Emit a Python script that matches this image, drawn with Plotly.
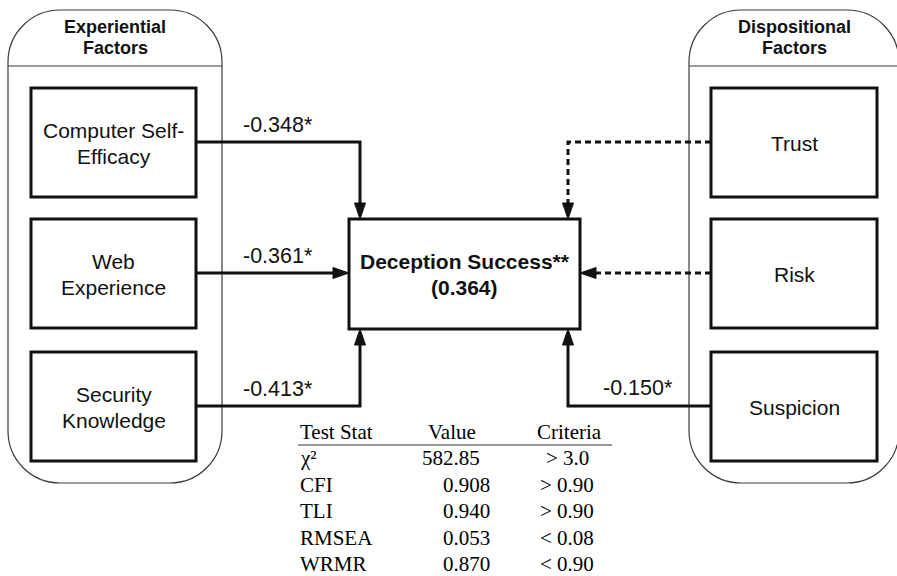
import plotly.graph_objects as go

# ---------------- data ----------------
group_titles = [["Experiential", "Factors"], ["Dispositional", "Factors"]]
experiential = [["Computer Self-", "Efficacy"], ["Web", "Experience"], ["Security", "Knowledge"]]
experiential_coef = ["-0.348*", "-0.361*", "-0.413*"]
experiential_sig = [True, True, True]
dispositional = [["Trust"], ["Risk"], ["Suspicion"]]
dispositional_coef = ["", "", "-0.150*"]
dispositional_sig = [False, False, True]
outcome_label = ["Deception Success**", "(0.364)"]
fit_header = ["Test Stat", "Value", "Criteria"]
fit_stats = ["χ²", "CFI", "TLI", "RMSEA", "WRMR"]
fit_values = ["582.85", "0.908", "0.940", "0.053", "0.870"]
fit_criteria = ["> 3.0", "> 0.90", "> 0.90", "< 0.08", "< 0.90"]

# ---------------- geometry ----------------
W, H = 897, 576
SANS = "Liberation Sans, Arial, sans-serif"
SERIF = "Liberation Serif, Times New Roman, serif"
INK = "#111111"

row_y = [142, 273, 406]
box_half_up, box_half_dn = 54, 55
left_box = (31, 196)
right_box = (711, 877)
center = dict(x0=349, x1=580, y0=219, y1=329)
left_entry_x, right_entry_x = 360, 568
containers = [dict(x0=8, x1=222), dict(x0=689, x1=899)]
cont_y0, cont_y1, cont_sep, cont_r = 10, 483, 66, 52
LINE_GAP = 26

shapes = []
annotations = []


def rounded_path(x0, x1, y0, y1, r):
    k = 0.5523 * r
    return (f"M{x0},{y0 + r} C{x0},{y0 + r - k} {x0 + r - k},{y0} {x0 + r},{y0} "
            f"L{x1 - r},{y0} C{x1 - r + k},{y0} {x1},{y0 + r - k} {x1},{y0 + r} "
            f"L{x1},{y1 - r} C{x1},{y1 - r + k} {x1 - r + k},{y1} {x1 - r},{y1} "
            f"L{x0 + r},{y1} C{x0 + r - k},{y1} {x0},{y1 - r + k} {x0},{y1 - r} Z")


def arrowhead(x, y, direction, length=16, half=5.5):
    if direction == "down":
        p = f"M{x - half},{y - length} L{x + half},{y - length} L{x},{y} Z"
    elif direction == "up":
        p = f"M{x - half},{y + length} L{x + half},{y + length} L{x},{y} Z"
    elif direction == "right":
        p = f"M{x - length},{y - half} L{x - length},{y + half} L{x},{y} Z"
    else:
        p = f"M{x + length},{y - half} L{x + length},{y + half} L{x},{y} Z"
    shapes.append(dict(type="path", path=p, xref="x", yref="y",
                       fillcolor=INK, line=dict(color=INK, width=1)))


def text(x, y, s, size, font=SANS, bold=False, xanchor="center", color=INK):
    annotations.append(dict(x=x, y=y, xref="x", yref="y", text=f"<b>{s}</b>" if bold else s,
                            showarrow=False, xanchor=xanchor, yanchor="middle",
                            font=dict(family=font, size=size, color=color)))


def lines(x, cy, parts, size, gap=LINE_GAP, **kw):
    n = len(parts)
    for i, part in enumerate(parts):
        text(x, cy + (i - (n - 1) / 2) * gap, part, size, **kw)


# containers
for c, title in zip(containers, group_titles):
    shapes.append(dict(type="path", path=rounded_path(c["x0"], c["x1"], cont_y0, cont_y1, cont_r),
                       xref="x", yref="y", line=dict(color="#3a3a3a", width=1.2)))
    shapes.append(dict(type="line", x0=c["x0"], x1=c["x1"], y0=cont_sep, y1=cont_sep,
                       xref="x", yref="y", line=dict(color="#3a3a3a", width=1.2)))
    lines((c["x0"] + c["x1"]) / 2, 37.5, title, 18, gap=21, bold=True)

# factor boxes
for side, labels in ((left_box, experiential), (right_box, dispositional)):
    for y, lab in zip(row_y, labels):
        shapes.append(dict(type="rect", x0=side[0], x1=side[1], y0=y - box_half_up, y1=y + box_half_dn,
                           xref="x", yref="y", line=dict(color=INK, width=3), fillcolor="white"))
        lines((side[0] + side[1]) / 2, y + 1, lab, 21)

# outcome box
shapes.append(dict(type="rect", xref="x", yref="y", line=dict(color=INK, width=3),
                   fillcolor="white", **center))
lines((center["x0"] + center["x1"]) / 2, 274, outcome_label, 21, bold=True)


def connect(start_x, y, idx, entry_x, side_x, sig, toward):
    dash = "solid" if sig else "6px,4px"
    if idx == 1:
        tip = side_x
        end = tip - 14 if toward == "right" else tip + 14
        shapes.append(dict(type="line", x0=start_x, x1=end, y0=y, y1=y, xref="x", yref="y",
                           line=dict(color=INK, width=3, dash=dash)))
        arrowhead(tip, y, toward)
    else:
        if idx == 0:
            tip_y, end_y, d = center["y0"], center["y0"] - 14, "down"
        else:
            tip_y, end_y, d = center["y1"], center["y1"] + 14, "up"
        p = f"M{start_x},{y} L{entry_x},{y} L{entry_x},{end_y}"
        shapes.append(dict(type="path", path=p, xref="x", yref="y",
                           line=dict(color=INK, width=3, dash=dash)))
        arrowhead(entry_x, tip_y, d)


for i, (y, coef, sig) in enumerate(zip(row_y, experiential_coef, experiential_sig)):
    connect(left_box[1], y, i, left_entry_x, center["x0"], sig, "right")
    if coef:
        text(278, y - 17, coef, 21.5)

for i, (y, coef, sig) in enumerate(zip(row_y, dispositional_coef, dispositional_sig)):
    connect(right_box[0], y, i, right_entry_x, center["x1"], sig, "left")
    if coef:
        text(638, y - 18, coef, 21.5)

# fit table
col_left = 298
TS = 21
text(col_left, 432, fit_header[0], TS, font=SERIF, xanchor="left", color="#000")
text(452, 432, fit_header[1], TS, font=SERIF, color="#000")
text(569, 432, fit_header[2], TS, font=SERIF, color="#000")
shapes.append(dict(type="line", x0=col_left, x1=612, y0=445, y1=445, xref="x", yref="y",
                   line=dict(color="#777777", width=1.5)))
for i, (s, v, c) in enumerate(zip(fit_stats, fit_values, fit_criteria)):
    y = 458 + 26.5 * i
    text(col_left, y, s, TS, font=SERIF, xanchor="left", color="#000")
    text(482 if i == 0 else 492, y, v, TS, font=SERIF, xanchor="right", color="#000")
    text(567, y, c, TS, font=SERIF, color="#000")

fig = go.Figure(go.Scatter(x=[None], y=[None], showlegend=False, hoverinfo="skip"))
fig.update_layout(
    width=W, height=H, margin=dict(l=0, r=0, t=0, b=0),
    paper_bgcolor="white", plot_bgcolor="white",
    xaxis=dict(range=[0, W], visible=False, fixedrange=True),
    yaxis=dict(range=[H, 0], visible=False, fixedrange=True),
    shapes=shapes, annotations=annotations, showlegend=False,
)
fig.write_html("out.html", config={"displayModeBar": False},
               post_script="document.body.style.margin='0px';document.body.style.overflow='hidden';")
